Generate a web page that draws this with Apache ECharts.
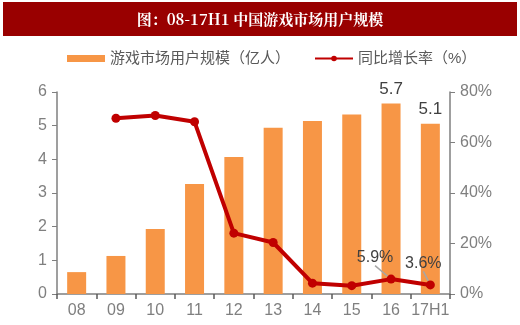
<!DOCTYPE html>
<html><head><meta charset="utf-8">
<script src="https://cdn.jsdelivr.net/npm/echarts@6/dist/echarts.min.js"></script>
<style>html,body{margin:0;padding:0;background:#fff}#c{width:520px;height:325px}</style>
</head><body><div id="c"></div>
<script>
const categories = ['08','09','10','11','12','13','14','15','16','17H1'];
const users = [0.65, 1.13, 1.93, 3.27, 4.07, 4.94, 5.14, 5.33, 5.66, 5.06];
const growth = [null, 69.6, 70.7, 68.2, 24.1, 20.4, 4.3, 3.3, 5.9, 3.6];
const barLabelIdx = [8, 9];
const lineLabelIdx = [8, 9];
const titleText = '图：08-17H1 中国游戏市场用户规模';
const barName = '游戏市场用户规模（亿人）';
const lineName = '同比增长率（%）';

const FONT = "'Liberation Sans','Noto Sans CJK SC',sans-serif";
const chart = echarts.init(document.getElementById('c'));
chart.setOption({
  animation: false,
  textStyle: {fontFamily: FONT},
  graphic: [
    {type:'rect', shape:{x:3,y:2,width:514,height:34}, style:{fill:'#990000'}},
    {type:'text', x:260, y:19, style:{text:titleText, fill:'#fff', font:"bold 15px 'Noto Serif CJK SC','Noto Sans CJK SC',serif", align:'center', verticalAlign:'middle'}}
  ],
  legend: {
    top: 46, left: 62, itemGap: 24,
    textStyle: {fontSize: 15, color: '#595959', fontFamily: FONT},
    data: [
      {name: barName, icon: 'rect', itemStyle:{color:'#F79646'}},
      {name: lineName}
    ],
    itemWidth: 38, itemHeight: 7
  },
  grid: {left: 57, right: 70, top: 92, bottom: 31},
  xAxis: {
    type: 'category', data: categories,
    axisLine: {lineStyle: {color: '#7f7f7f', width: 1.5}},
    axisTick: {show: true, length: 5, lineStyle:{color:'#595959', width:1.5}},
    axisLabel: {fontSize: 16, color: '#7f7f7f', margin: 9, interval: 0}
  },
  yAxis: [
    {type:'value', min:0, max:6, interval:1,
     splitLine:{show:false},
     axisLine:{show:true, lineStyle:{color:'#7f7f7f', width:1.5}},
     axisTick:{show:true, length:5, lineStyle:{color:'#7f7f7f'}},
     axisLabel:{fontSize:16, color:'#7f7f7f', margin:10}},
    {type:'value', min:0, max:80, interval:20,
     splitLine:{show:false},
     axisLine:{show:true, lineStyle:{color:'#7f7f7f', width:1.5}},
     axisTick:{show:true, length:5, lineStyle:{color:'#7f7f7f'}},
     axisLabel:{fontSize:16, color:'#7f7f7f', margin:10, formatter: v => v + '%'}}
  ],
  series: [
    {name: barName, type:'bar', barWidth: 19, yAxisIndex:0,
     itemStyle:{color:'#F79646'},
     data: users.map((v,i)=>({value:v, label:{show: barLabelIdx.includes(i)}})),
     label:{position:'top', distance:6, fontSize:17, color:'#404040', formatter: p => p.value.toFixed(1)}
    },
    {name: lineName, type:'line', yAxisIndex:1,
     symbol:'circle', symbolSize:9, connectNulls:false,
     lineStyle:{color:'#C00000', width:4},
     itemStyle:{color:'#C00000'},
     data: growth.map((v,i)=>({value:v, label:{show: lineLabelIdx.includes(i)}})),
     label:{position:'top', fontSize:16, color:'#404040', formatter: p => p.value.toFixed(1)+'%'},
     labelLine:{show:true, lineStyle:{color:'#a6a6a6', width:1.5}},
     labelLayout: function(p){
       if (p.dataIndex === 8) return {dx:-16, dy:-4};
       return {dx:-7, dy:-4};
     }
    }
  ]
});
</script></body></html>
